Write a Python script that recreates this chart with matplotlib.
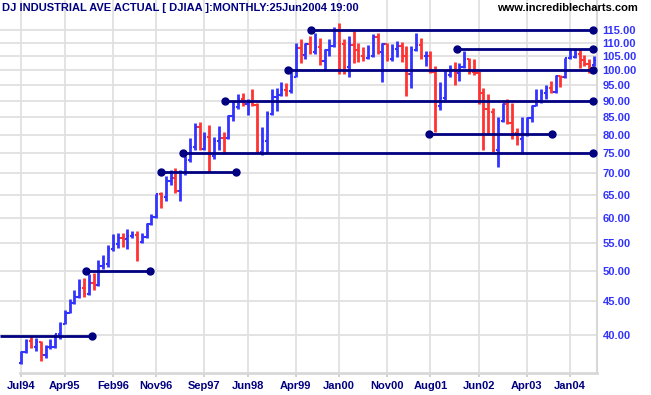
import matplotlib
matplotlib.use("Agg")
import matplotlib.pyplot as plt
import numpy as np

# DJIA monthly, Jul 1994 .. Jun 2004 (index / 100)
closes = [
    37.65, 39.13, 38.43, 39.08, 37.39, 38.34,
    38.44, 40.11, 41.58, 43.21, 44.65, 45.56, 47.09, 46.11, 47.89, 47.56, 50.75, 51.17,
    53.95, 54.86, 55.88, 55.69, 56.44, 56.55, 55.29, 56.16, 58.82, 60.29, 65.22, 64.48,
    68.13, 68.78, 65.84, 70.09, 73.31, 76.73, 82.23, 76.22, 79.45, 74.42, 78.23, 79.08,
    79.07, 85.46, 88.00, 90.63, 89.00, 89.52, 88.83, 75.39, 78.43, 85.92, 91.17, 91.81,
    93.59, 93.07, 97.86, 107.89, 105.60, 109.71, 106.55, 108.29, 103.37, 107.30, 108.78, 114.97,
    109.41, 101.28, 109.22, 107.34, 105.22, 104.48, 105.22, 112.15, 106.51, 109.71, 104.15, 107.87,
    108.87, 104.95, 98.79, 107.35, 109.12, 105.02, 105.23, 99.50, 88.48, 90.75, 98.52, 100.21,
    99.20, 101.06, 104.04, 99.46, 99.25, 92.43, 87.37, 86.64, 75.92, 83.97, 88.96, 83.42,
    80.54, 78.91, 79.92, 84.80, 88.50, 89.85, 92.34, 94.16, 92.75, 98.01, 97.82, 104.54,
    104.88, 105.84, 103.58, 102.26, 101.88, 103.71,
]
highs = [
    37.9, 39.4, 39.9, 39.6, 39.2, 38.6,
    39.4, 40.2, 41.9, 43.6, 45.3, 46.8, 48.6, 48.8, 49.4, 49.5, 51.8, 52.8,
    54.6, 56.7, 56.9, 56.9, 57.7, 57.3, 57.3, 57.0, 59.0, 60.9, 65.1, 65.6,
    69.4, 70.9, 71.3, 70.9, 74.4, 79.0, 83.3, 83.7, 80.9, 82.8, 79.4, 82.5,
    80.9, 85.7, 90.0, 92.3, 92.6, 90.5, 93.8, 89.2, 82.3, 86.9, 93.7, 94.2,
    96.2, 95.7, 100.9, 109.8, 111.4, 110.1, 112.7, 113.7, 111.7, 107.8, 111.3, 116.1,
    117.7, 111.4, 112.7, 114.7, 109.8, 108.5, 109.1, 113.4, 113.7, 110.1, 110.1, 109.5,
    110.7, 110.4, 108.8, 108.8, 113.7, 112.0, 107.1, 106.8, 101.6, 96.0, 100.3, 101.9,
    102.8, 102.6, 106.9, 104.4, 104.1, 99.7, 94.0, 92.1, 87.7, 85.0, 89.3, 90.7,
    89.3, 81.8, 85.0, 85.0, 88.8, 93.8, 93.8, 95.1, 96.4, 98.5, 98.5, 104.5,
    107.8, 107.8, 107.6, 105.6, 104.1, 105.0,
]
lows = [
    36.2, 37.6, 38.2, 37.8, 36.5, 36.9,
    38.1, 38.3, 39.4, 41.5, 43.2, 44.6, 45.4, 45.7, 45.9, 46.8, 47.4, 50.2,
    50.6, 53.5, 54.0, 54.3, 53.8, 55.9, 51.7, 55.0, 56.0, 58.5, 60.0, 62.1,
    63.6, 67.3, 65.5, 63.6, 69.6, 72.9, 76.0, 76.0, 76.0, 70.3, 73.5, 75.9,
    74.9, 78.9, 84.0, 87.5, 88.3, 85.7, 88.3, 75.2, 74.7, 75.1, 85.8, 86.9,
    91.4, 91.4, 92.6, 97.8, 102.6, 104.2, 106.0, 106.0, 101.8, 100.2, 105.2, 108.5,
    98.7, 98.8, 97.8, 102.6, 102.9, 103.2, 103.9, 104.9, 105.9, 96.2, 103.2, 103.2,
    104.9, 102.8, 91.4, 94.0, 106.8, 104.2, 101.7, 99.1, 80.8, 87.2, 90.3, 97.8,
    95.1, 96.3, 101.0, 98.7, 98.4, 89.1, 75.8, 80.2, 75.3, 71.6, 83.5, 83.0,
    78.9, 77.1, 74.9, 79.6, 83.6, 88.3, 89.3, 90.7, 92.4, 92.6, 94.3, 97.5,
    104.2, 104.5, 100.8, 101.7, 99.0, 101.5,
]
first_open = 36.25

# support / resistance lines: (start index, end index, level, dot at start)
lines_x0 = [-4.46, 13.4, 28.9, 33.6, 42.2, 55.4, 60.1, 90.6, 84.7]
lines_x1 = [14.7, 26.7, 44.6, 118.8, 118.8, 118.8, 118.8, 118.8, 110.2]
lines_lvl = [39.9, 50.0, 70.4, 75.2, 90.0, 100.3, 115.1, 107.7, 80.2]
lines_dot0 = [False, True, True, True, True, True, True, True, True]

tick_idx = [0, 9, 19, 28, 38, 47, 57, 66, 76, 85, 95, 105, 114]
tick_lbl = ["Jul94", "Apr95", "Feb96", "Nov96", "Sep97", "Jun98", "Apr99",
            "Jan00", "Nov00", "Aug01", "Jun02", "Apr03", "Jan04"]
ytick_vals = [40, 45, 50, 55, 60, 65, 70, 75, 80, 85, 90, 95, 100, 105, 110, 115]

BLUE = "#3333ff"
RED = "#ff3333"
NAVY = "#000080"
GRID = "#e0e0e0"

plt.rcParams['font.family'] = ['Liberation Sans', 'DejaVu Sans']

W, H = 651, 395
fig = plt.figure(figsize=(W / 100, H / 100), dpi=100)
ax = fig.add_axes([0, (H - 373) / H, 597 / W, 373 / H])

ax.set_yscale("log")
ax.set_ylim(35.07, 127.6)
ax.set_xlim(-4.46, 119.6)

x = np.arange(len(closes))
opens = [first_open] + closes[:-1]
colors = [BLUE if (i == 0 or closes[i] >= closes[i - 1]) else RED for i in range(len(closes))]

ax.vlines(x, lows, highs, colors=colors, lw=2.0, zorder=3)
ax.hlines(opens, x - 0.45, x, colors=colors, lw=1.5, zorder=3)
ax.hlines(closes, x, x + 0.45, colors=colors, lw=1.5, zorder=3)

for x0, x1, lvl, d0 in zip(lines_x0, lines_x1, lines_lvl, lines_dot0):
    ax.plot([x0, x1], [lvl, lvl], color=NAVY, lw=2.0, zorder=4, solid_capstyle="butt")
    ax.plot([x1], [lvl], "o", color=NAVY, ms=5, zorder=5)
    if d0:
        ax.plot([x0], [lvl], "o", color=NAVY, ms=5, zorder=5)

ax.yaxis.tick_right()
ax.set_yticks(ytick_vals)
ax.set_yticklabels(["%.2f" % v for v in ytick_vals])
ax.yaxis.set_minor_locator(matplotlib.ticker.NullLocator())
ax.tick_params(axis="y", length=0, pad=4, labelsize=8, labelcolor=BLUE)
for t in ax.get_yticklabels():
    t.set_fontweight("bold")

ax.set_xticks(tick_idx)
ax.set_xticklabels(tick_lbl)
ax.tick_params(axis="x", length=3, width=1.2, color="#c8c8c8", pad=3,
               labelsize=8, labelcolor=NAVY)
for t in ax.get_xticklabels():
    t.set_fontweight("bold")

ax.grid(True, color=GRID, lw=1.3, zorder=0)
ax.set_axisbelow(True)
for s in ["top", "left"]:
    ax.spines[s].set_visible(False)
ax.spines["right"].set_color("#d8d8d8")
ax.spines["right"].set_linewidth(1.5)
ax.spines["bottom"].set_color("#d8d8d8")
ax.spines["bottom"].set_linewidth(2)
ax.spines["bottom"].set_bounds(-0.3, 119.6)

fig.text(2 / W, 1 - 8 / H, "DJ INDUSTRIAL AVE ACTUAL [ DJIAA ]:MONTHLY:25Jun2004 19:00",
         color=NAVY, fontsize=8, fontweight="bold", va="center", ha="left")
fig.text(638 / W, 1 - 8 / H, "www.incrediblecharts.com", color="black",
         fontsize=8, fontweight="bold", va="center", ha="right")

fig.savefig("out.png", dpi=100)
